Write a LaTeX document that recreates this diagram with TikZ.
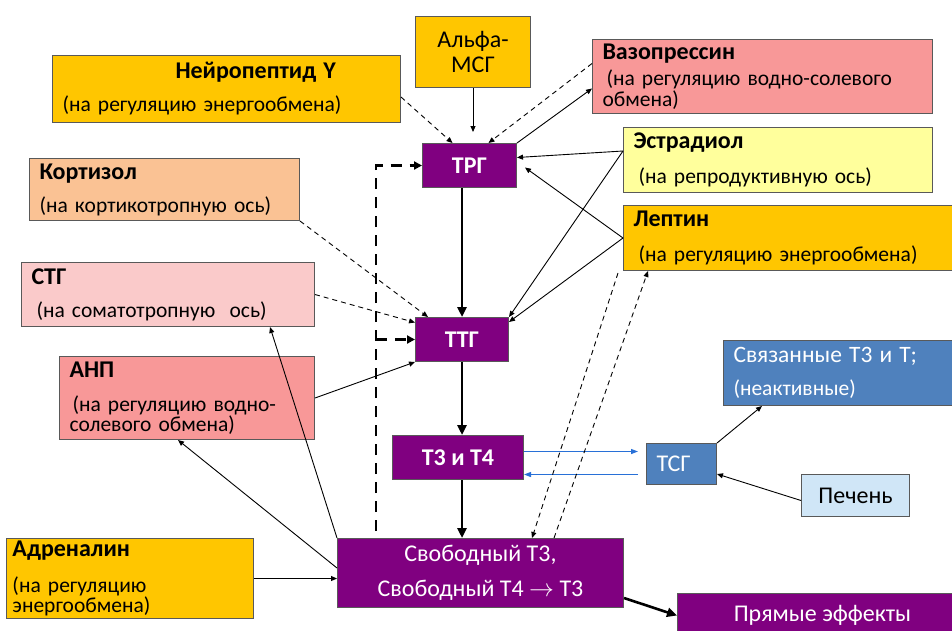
\documentclass[tikz,border=0pt]{standalone}
\usepackage{fontspec}
\setmainfont{Carlito}
\usepackage{tikz}
\usetikzlibrary{calc,arrows.meta}

\definecolor{gold}{RGB}{255,198,0}
\definecolor{salmon}{RGB}{248,152,152}
\definecolor{peach}{RGB}{250,194,148}
\definecolor{palepink}{RGB}{250,202,202}
\definecolor{paleyellow}{RGB}{255,255,156}
\definecolor{purp}{RGB}{128,0,128}
\definecolor{steel}{RGB}{79,129,189}
\definecolor{paleblue}{RGB}{208,230,247}
\definecolor{arrowblue}{RGB}{40,112,215}

\newcommand{\ttl}[1]{{\fontsize{24}{24}\selectfont\bfseries #1}}

\begin{document}
\begin{tikzpicture}[x=1pt,y=-1pt,
  every node/.style={inner sep=0pt,font=\fontsize{21.5}{21.5}\selectfont},
  box/.style={draw=black!65,line width=1pt,anchor=north west,align=left,inner xsep=10pt},
  lfont/.style={font=\fontsize{24}{24}\selectfont},
  pbox/.style={box,lfont,fill=purp,text=white,align=center},
  conn/.style={line width=0.9pt,arrows=-{Triangle[length=6pt,width=5pt]}},
  dconn/.style={conn,dash pattern=on 5pt off 4pt},
  bigarrow/.style={line width=2.6pt,arrows=-{Triangle[length=10pt,width=9pt]}},
  fback/.style={line width=2.6pt,dash pattern=on 11pt off 8pt,arrows=-{Triangle[length=8pt,width=8pt]}},
  bluearrow/.style={arrowblue,line width=1.2pt,arrows=-{Triangle[length=7pt,width=5pt]}}]

\useasboundingbox (0,0) rectangle (952,630);
\clip (0,0) rectangle (952,630);

\node[box,fill=gold,text width=328pt,minimum height=67pt] (npy) at (52,55) {\hspace*{113pt}\ttl{Нейропептид Y}\\[11.5pt](на регуляцию энергообмена)};
\node[box,lfont,fill=gold,align=center,text width=95pt,minimum height=71pt] (alfa) at (415,16) {Альфа-\\[1pt]МСГ};
\node[box,fill=salmon,text width=320pt,minimum height=74pt] (vaso) at (592,39) {\ttl{Вазопрессин}\\[5pt]\hspace*{4pt}(на регуляцию водно-солевого\\[-1pt]обмена)};
\node[box,fill=paleyellow,text width=289pt,minimum height=65pt] (estr) at (623,127) {\ttl{Эстрадиол}\\[13.5pt]\hspace*{5pt}(на репродуктивную ось)};
\node[box,fill=gold,text width=320pt,minimum height=65pt] (lept) at (623,205) {\ttl{Лептин}\\[13.5pt]\hspace*{5pt}(на регуляцию энергообмена)};
\node[box,fill=peach,text width=250pt,minimum height=62pt] (kort) at (29,158) {\ttl{Кортизол}\\[11.5pt](на кортикотропную ось)};
\node[box,fill=palepink,text width=273pt,minimum height=64pt] (stg) at (21,262) {\ttl{СТГ}\\[11.5pt]\hspace*{5pt}(на соматотропную\ \ ось)};
\node[box,fill=salmon,text width=235pt,minimum height=83pt] (anp) at (59,356) {\ttl{АНП}\\[12.5pt]\hspace*{3pt}(на регуляцию водно-\\[-1pt]солевого обмена)};
\node[box,fill=gold,inner xsep=6pt,text width=235pt,minimum height=80pt] (adr) at (6,538) {\ttl{Адреналин}\\[14pt](на регуляцию\\[-1pt]энергообмена)};

\node[pbox,minimum width=94pt,minimum height=44pt] (trg) at (422,143) {\ttl{ТРГ}};
\node[pbox,minimum width=93pt,minimum height=44pt] (ttg) at (415,317) {\ttl{ТТГ}};
\node[pbox,minimum width=131pt,minimum height=44pt] (t34) at (392,435) {\ttl{Т3 и Т4}};
\node[pbox,minimum width=286pt,minimum height=69pt] (free) at (337,538) {Свободный Т3,\\[11pt]Свободный Т4 $\rightarrow$ Т3};
\node[pbox,minimum width=290pt,minimum height=44pt] (pryam) at (677,593) {Прямые эффекты};

\node[box,lfont,fill=steel,text=white,text width=50pt,minimum height=41pt] (tsg) at (646,443) {ТСГ};
\node[box,fill=steel,text=white,text width=220pt,minimum height=65pt] (svyaz) at (723,340) {{\fontsize{23.5}{23.5}\selectfont Связанные Т3 и Т;}\\[11.5pt](неактивные)};
\node[box,lfont,fill=paleblue,align=center,minimum width=108pt,minimum height=42pt] (liver) at (801,474) {Печень};

\draw[dconn] ($(npy.east)+(0,8)$) -- ($(trg.north)+(-17,0)$);
\draw[conn,shorten >=11pt] (alfa.south) -- (alfa.south |- trg.north);
\draw[dconn] ($(vaso.west)+(0,-13)$) -- ($(trg.north)+(19,0)$);
\draw[conn] (trg.north east) -- ($(vaso.west)+(0,12)$);
\draw[conn] ($(estr.west)+(0,-9)$) -- ($(trg.east)+(0,-8)$);
\draw[conn] (lept.west) -- ($(trg.east)+(8,2)$);
\draw[conn] ($(estr.west)+(0,-9)$) -- (ttg.north east);
\draw[conn] (lept.west) -- ($(ttg.north east)+(0,5)$);
\draw[dconn] (kort.south east) -- ($(ttg.north)+(-34,0)$);
\draw[dconn] (stg.east) -- ($(ttg.west)+(0,-17)$);
\draw[conn] (anp.east) -- (ttg.south west);

\draw[bigarrow] (ttg.north |- trg.south) -- (ttg.north);
\draw[bigarrow] (ttg.south) -- (ttg.south |- t34.north);
\draw[bigarrow] (ttg.south |- t34.south) -- (ttg.south |- free.north);

\draw[bluearrow] ($(t34.east)+(0,-6)$) -- ($(t34.east -| tsg.west)+(-8,-6)$);
\draw[bluearrow] ($(t34.east -| tsg.west)+(-8,17)$) -- ($(t34.east)+(0,17)$);
\draw[conn] (tsg.north east) -- ($(svyaz.south west)+(39,0)$);
\draw[conn] ($(liver.west)+(0,5)$) -- ($(tsg.east)+(0,10)$);

\draw[bigarrow] ($(free.east)+(0,25)$) -- (pryam.west);
\draw[conn] (free.north west) -- ($(stg.south west)+(249,0)$);
\draw[conn] ($(free.west)+(0,-5)$) -- ($(anp.south west)+(119,0)$);
\draw[conn] (adr.east) -- (adr.east -| free.west);
\draw[dconn] ($(lept.south west)+(-5,2)$) -- ($(free.north west)+(195,0)$);
\draw[dconn] ($(free.north west)+(217,0)$) -- ($(lept.south west)+(25,0)$);

\coordinate (fbstart) at ($(free.north west)+(39,-7)$);
\draw[fback] (fbstart) |- (trg.west);
\draw[fback] (fbstart |- ttg.west) -- (ttg.west);

\end{tikzpicture}
\end{document}
